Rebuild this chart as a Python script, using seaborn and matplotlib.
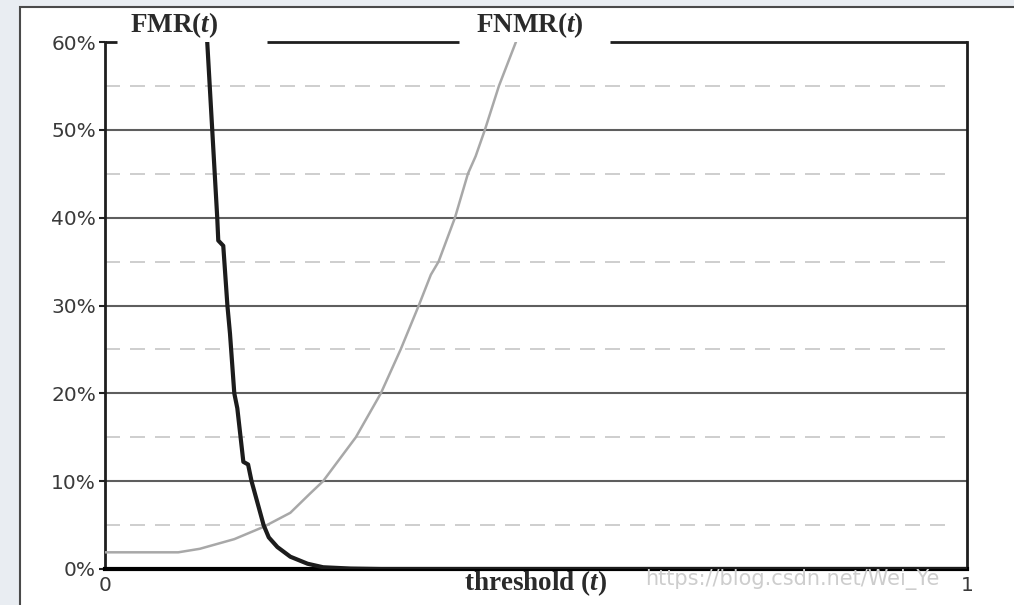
import matplotlib
matplotlib.use("Agg")
import matplotlib.pyplot as plt
import seaborn as sns
import pandas as pd
from matplotlib.patches import Rectangle

# ---- data ----
fmr_t = [0.112, 0.1186, 0.1244, 0.1302, 0.1314, 0.1372, 0.142, 0.145, 0.150, 0.1535,
         0.1605, 0.166, 0.170, 0.184, 0.190, 0.200, 0.215, 0.235, 0.253, 0.285, 0.32, 1.0]
fmr_v = [70, 60, 50, 40, 37.4, 36.8, 30, 26.8, 20, 18.3,
         12.2, 11.9, 10, 5, 3.6, 2.5, 1.4, 0.6, 0.2, 0.05, 0, 0]

fnmr_t = [0.0, 0.085, 0.11, 0.15, 0.184, 0.215, 0.238, 0.253, 0.291, 0.320, 0.343,
          0.364, 0.378, 0.387, 0.406, 0.421, 0.430, 0.4407, 0.457, 0.4767, 0.49]
fnmr_v = [1.9, 1.9, 2.3, 3.4, 4.8, 6.4, 8.6, 10, 15, 20, 25,
          30, 33.5, 35, 40, 45, 47, 50, 55, 60, 65]

yticks = [0, 10, 20, 30, 40, 50, 60]
yticklabels = ["0%", "10%", "20%", "30%", "40%", "50%", "60%"]
minor_lines = [5, 15, 25, 35, 45, 55]
xticks = [0, 1]
xticklabels = ["0", "1"]
series_labels = ["FMR($t$)", "FNMR($t$)"]
xlabel = "threshold ($t$)"
watermark = "https://blog.csdn.net/Wei_Ye"

sns.set_style("white")
plt.rcParams["font.family"] = ["DejaVu Sans"]
plt.rcParams["mathtext.fontset"] = "custom"
plt.rcParams["mathtext.it"] = "Liberation Serif:italic:bold"
plt.rcParams["mathtext.rm"] = "Liberation Serif:bold"

W, H = 1014, 605
fig = plt.figure(figsize=(W / 100, H / 100), dpi=100)
fig.patch.set_facecolor("#e9edf2")
fig.add_artist(Rectangle((20 / W, -0.1), 1.2, 1 - 7 / H + 0.1, transform=fig.transFigure,
                         facecolor="white", edgecolor="#4a4a4a", lw=1.5, zorder=-10))

ax = fig.add_axes([105 / W, 1 - 569 / H, (967 - 105) / W, (569 - 42) / H])
ax.set_facecolor("white")

# grid lines
for v in yticks[1:-1]:
    ax.axhline(v, color="#5e5e5e", lw=1.5, zorder=1)
for v in minor_lines:
    ax.axhline(v, color="#c6c6c6", lw=1.2, ls=(0, (9, 6)), xmax=0.985, zorder=1)

df_fnmr = pd.DataFrame({"t": fnmr_t, "v": fnmr_v})
df_fmr = pd.DataFrame({"t": fmr_t, "v": fmr_v})
sns.lineplot(data=df_fnmr, x="t", y="v", ax=ax, color="#a8a8a8", lw=1.8,
             sort=False, estimator=None, zorder=3)
sns.lineplot(data=df_fmr, x="t", y="v", ax=ax, color="#1c1c1c", lw=3.0,
             sort=False, estimator=None, zorder=4)

ax.set_xlim(0, 1)
ax.set_ylim(0, 60)
ax.set_xlabel("")
ax.set_ylabel("")

ax.set_yticks(yticks)
ax.set_yticklabels(yticklabels)
ax.set_xticks(xticks)
ax.set_xticklabels(xticklabels)
ax.tick_params(axis="y", length=4, width=1.5, pad=2.5, labelsize=14.5,
               labelcolor="#3a3a3a", color="#222222", left=True)
ax.tick_params(axis="x", length=0, pad=5, labelsize=14.5, labelcolor="#3a3a3a")

for s in ["left", "right"]:
    ax.spines[s].set_color("#1e1e1e")
    ax.spines[s].set_linewidth(2.0)
ax.spines["bottom"].set_color("#000000")
ax.spines["bottom"].set_linewidth(3.0)
ax.spines["top"].set_visible(False)

# top border with gaps behind the curve labels
axw = 967 - 105
segs = [(0, (117 - 105) / axw), ((267 - 105) / axw, (459 - 105) / axw), ((610 - 105) / axw, 1.0)]
for a, b in segs:
    ax.plot([a, b], [1, 1], transform=ax.transAxes, color="#1e1e1e", lw=2.0,
            clip_on=False, zorder=6, solid_capstyle="butt")

lab_kw = dict(transform=ax.transAxes, ha="center", va="center", fontsize=19.5,
              family="Liberation Serif", fontweight="bold", color="#2a2a2a")
ax.text((174 - 105) / axw, 1 + (42 - 25) / 527, series_labels[0], **lab_kw)
ax.text((530 - 105) / axw, 1 + (42 - 25) / 527, series_labels[1], **lab_kw)
ax.text(0.5, -(583 - 569) / 527, xlabel, **lab_kw)

fig.text(645 / W, 1 - 580 / H, watermark, color="#cdcdcd", fontsize=15,
         ha="left", va="center", family="DejaVu Sans", zorder=10)

fig.savefig("out.png", dpi=100, facecolor=fig.get_facecolor())
